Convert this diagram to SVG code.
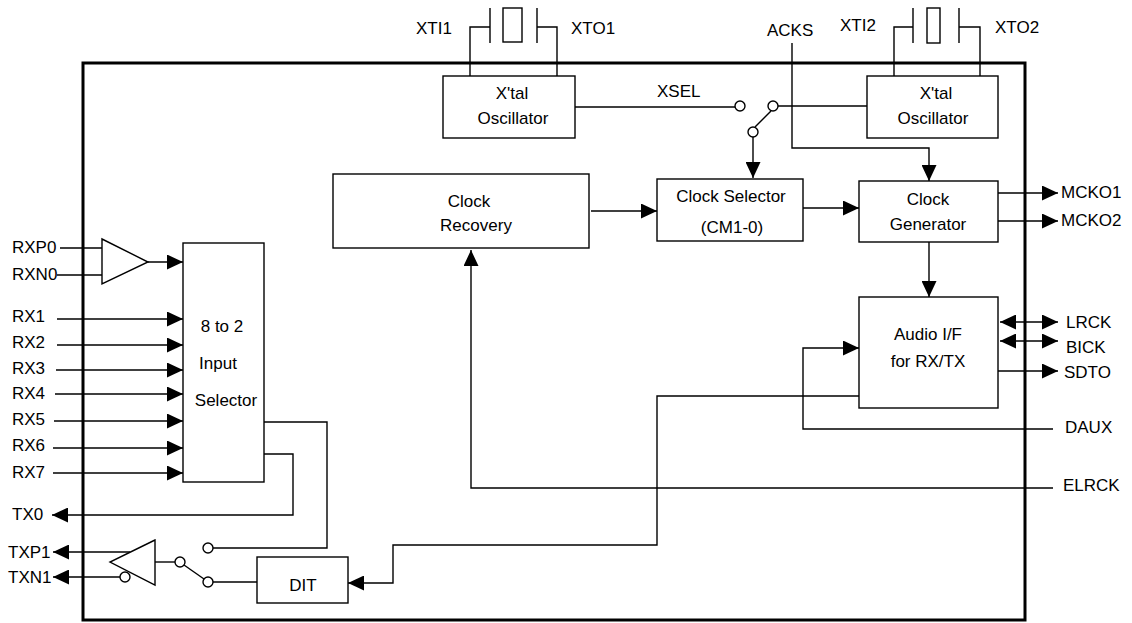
<svg xmlns="http://www.w3.org/2000/svg" width="1132" height="623" viewBox="0 0 1132 623">
<style>
.b{fill:#fff;stroke:#000;stroke-width:1.4}
.l{fill:none;stroke:#000;stroke-width:1.4}
.a{fill:none;stroke:#000;stroke-width:1.4;marker-end:url(#ah)}
.d{fill:none;stroke:#000;stroke-width:1.4;marker-end:url(#ah);marker-start:url(#ah)}
.c{fill:#fff;stroke:#000;stroke-width:1.4}
text{font-family:"Liberation Sans",Arial,sans-serif;font-size:17px;fill:#000}
.m{text-anchor:middle}
</style>
<defs>
<marker id="ah" viewBox="0 0 16 15" refX="16" refY="7.5" markerWidth="16" markerHeight="15" markerUnits="userSpaceOnUse" orient="auto-start-reverse"><path d="M0,0 L16,7.5 L0,15 z" fill="#000"/></marker>
</defs>
<rect x="83" y="63" width="942" height="557" fill="none" stroke="#000" stroke-width="3"/>
<g id="connectors">
<path class="l" d="M470,76 V27 H490 M490,8 V43 M537,8 V43 M537,27 H557 V76"/>
<rect class="b" x="503" y="8" width="19" height="34"/>
<path class="l" d="M894,76 V27 H913 M913,8 V43 M959,8 V43 M959,27 H980 V76"/>
<rect class="b" x="927" y="8" width="13" height="35"/>
<path class="l" d="M575,107 H735"/>
<path class="l" d="M778,106 H867"/>
<path class="l" d="M755,127 L771,111"/>
<path class="a" d="M753,137 V178"/>
<circle class="c" cx="740" cy="106" r="5"/>
<circle class="c" cx="773" cy="106" r="5"/>
<circle class="c" cx="753" cy="132" r="5"/>
<path class="a" d="M792,43 V148 H929 V181"/>
<path class="a" d="M591,211 H657"/>
<path class="a" d="M803,208 H859"/>
<path class="a" d="M998,193 H1058"/>
<path class="a" d="M998,221 H1058"/>
<path class="a" d="M929,242 V297"/>
<path class="d" d="M1000,322 H1058"/>
<path class="d" d="M1000,341 H1058"/>
<path class="a" d="M998,371 H1058"/>
<path class="a" d="M1053,429 H803 V348 H859"/>
<path class="a" d="M1053,488 H471 V250"/>
<path class="a" d="M859,396 H657 V545 H393 V583 H348"/>
<path class="l" d="M60,248 H102 M57,275 H102"/>
<path class="b" d="M102,239 L148,262 L102,284 Z"/>
<path class="a" d="M148,262 H183"/>
<path class="a" d="M57,319 H183"/>
<path class="a" d="M57,345 H183"/>
<path class="a" d="M56,370 H183"/>
<path class="a" d="M55,394 H183"/>
<path class="a" d="M54,421 H183"/>
<path class="a" d="M53,448 H183"/>
<path class="a" d="M53,473 H183"/>
<path class="a" d="M264,454 H293 V515 H52"/>
<path class="l" d="M264,422 H327 V548 H213"/>
<path class="b" d="M155,540 L110,562 L155,585 Z"/>
<path class="a" d="M130,552 H53"/>
<path class="a" d="M120,577 H53"/>
<circle class="c" cx="125" cy="577" r="5"/>
<path class="l" d="M155,562 H175"/>
<path class="l" d="M184,565 L204,579"/>
<path class="l" d="M213,582 H257"/>
<circle class="c" cx="180" cy="562" r="5"/>
<circle class="c" cx="208" cy="548" r="5"/>
<circle class="c" cx="208" cy="582" r="5"/>
</g>
<g id="osc1"><rect class="b" x="443" y="76" width="132" height="62"/><text class="m" x="512" y="99">X'tal</text><text class="m" x="513" y="124">Oscillator</text></g>
<g id="osc2"><rect class="b" x="867" y="76" width="131" height="62"/><text class="m" x="936" y="99">X'tal</text><text class="m" x="933" y="124">Oscillator</text></g>
<g id="clockrecovery"><rect class="b" x="333" y="174" width="256" height="74"/><text class="m" x="469" y="207">Clock</text><text class="m" x="476" y="231">Recovery</text></g>
<g id="clockselector"><rect class="b" x="657" y="179" width="146" height="62"/><text class="m" x="731" y="202">Clock Selector</text><text class="m" x="732" y="233">(CM1-0)</text></g>
<g id="clockgenerator"><rect class="b" x="859" y="181" width="139" height="61"/><text class="m" x="928" y="205">Clock</text><text class="m" x="928" y="230">Generator</text></g>
<g id="audioif"><rect class="b" x="859" y="297" width="139" height="111"/><text class="m" x="928" y="340">Audio I/F</text><text class="m" x="928" y="367">for RX/TX</text></g>
<g id="inputselector"><rect class="b" x="183" y="243" width="81" height="239"/><text class="m" x="222" y="332">8 to 2</text><text class="m" x="218" y="369">Input</text><text class="m" x="226" y="406">Selector</text></g>
<g id="dit"><rect class="b" x="257" y="557" width="91" height="46"/><text class="m" x="303" y="591">DIT</text></g>
<g id="labels">
<text x="416" y="34">XTI1</text>
<text x="571" y="34">XTO1</text>
<text x="767" y="36">ACKS</text>
<text x="840" y="31">XTI2</text>
<text x="995" y="33">XTO2</text>
<text x="657" y="97">XSEL</text>
<text x="1061" y="198">MCKO1</text>
<text x="1061" y="226">MCKO2</text>
<text x="1066" y="328">LRCK</text>
<text x="1066" y="353">BICK</text>
<text x="1064" y="378">SDTO</text>
<text x="1065" y="433">DAUX</text>
<text x="1063" y="491">ELRCK</text>
<text x="12" y="253">RXP0</text>
<text x="12" y="280">RXN0</text>
<text x="12" y="322">RX1</text>
<text x="12" y="348">RX2</text>
<text x="12" y="374">RX3</text>
<text x="12" y="399">RX4</text>
<text x="12" y="425">RX5</text>
<text x="12" y="451">RX6</text>
<text x="12" y="478">RX7</text>
<text x="12" y="520">TX0</text>
<text x="8" y="558">TXP1</text>
<text x="8" y="583">TXN1</text>
</g>
</svg>
